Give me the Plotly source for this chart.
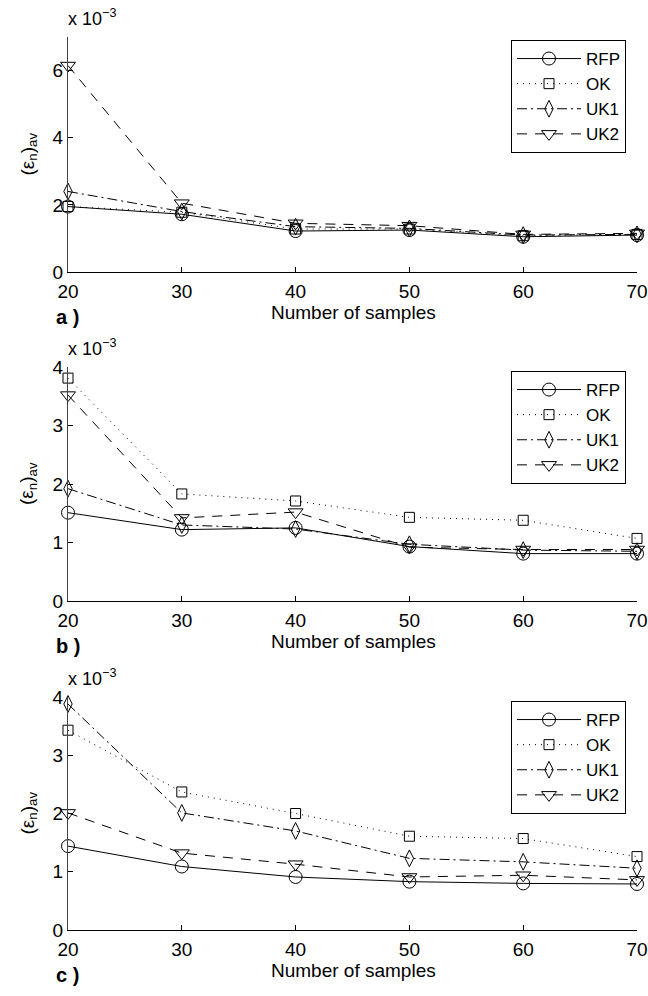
import plotly.graph_objects as go

samples = [20, 30, 40, 50, 60, 70]
series_names = ["RFP", "OK", "UK1", "UK2"]

# panel a (values x 1e-3)
a_rfp = [1.95, 1.72, 1.22, 1.25, 1.05, 1.10]
a_ok = [1.95, 1.78, 1.28, 1.28, 1.08, 1.12]
a_uk1 = [2.40, 1.80, 1.35, 1.30, 1.10, 1.12]
a_uk2 = [6.15, 2.05, 1.45, 1.38, 1.12, 1.15]

# panel b
b_rfp = [1.51, 1.22, 1.25, 0.93, 0.81, 0.81]
b_ok = [3.81, 1.83, 1.71, 1.43, 1.38, 1.07]
b_uk1 = [1.92, 1.30, 1.23, 0.97, 0.87, 0.85]
b_uk2 = [3.52, 1.42, 1.52, 0.92, 0.88, 0.88]

# panel c
c_rfp = [1.44, 1.09, 0.91, 0.83, 0.80, 0.79]
c_ok = [3.43, 2.37, 2.00, 1.61, 1.57, 1.26]
c_uk1 = [3.88, 2.01, 1.70, 1.23, 1.17, 1.06]
c_uk2 = [2.01, 1.32, 1.13, 0.91, 0.94, 0.86]

panels = [
    ("a )", [a_rfp, a_ok, a_uk1, a_uk2], 7, [0, 2, 4, 6]),
    ("b )", [b_rfp, b_ok, b_uk1, b_uk2], 4, [0, 1, 2, 3, 4]),
    ("c )", [c_rfp, c_ok, c_uk1, c_uk2], 4, [0, 1, 2, 3, 4]),
]

W, H = 648, 996
FONT = "Liberation Sans, Arial, Helvetica, sans-serif"
FS = 19
LFS = 17

# pixel geometry of each panel (top, bottom)
px_x0, px_x1 = 68, 637
px_panels = [(37, 272), (367, 601), (697, 930)]
legend_tops = [40, 371, 701]

styles = [
    dict(dash="solid", symbol="circle-open", size=13),
    dict(dash="1px,5px", symbol="square-open", size=10),
    dict(dash="10px,4px,2px,4px", symbol="diamond-tall-open", size=12),
    dict(dash="10px,8px", symbol="triangle-down-open", size=13),
]

fig = go.Figure()
annotations = []

for i, (label, data, ymax, ticks) in enumerate(panels):
    n = "" if i == 0 else str(i + 1)
    top, bot = px_panels[i]
    legname = "legend" if i == 0 else f"legend{i + 1}"
    for name, vals, st in zip(series_names, data, styles):
        fig.add_trace(go.Scatter(
            x=samples, y=vals, name=name, mode="lines+markers",
            xaxis="x" + n, yaxis="y" + n, legend=legname,
            line=dict(color="black", width=1, dash=st["dash"]),
            marker=dict(symbol=st["symbol"], size=st["size"], color="black",
                        line=dict(color="black", width=1)),
            cliponaxis=False,
        ))
    fig.update_layout(**{
        "xaxis" + n: dict(
            domain=[px_x0 / W, px_x1 / W], anchor="y" + n, automargin=False,
            range=[20, 70], tickvals=samples, ticks="inside", ticklen=5,
            showline=True, linecolor="black", linewidth=1, showgrid=False,
            zeroline=False, tickfont=dict(size=FS, family=FONT, color="black"),
            tickcolor="black", ticklabelstandoff=2,
        ),
        "yaxis" + n: dict(
            domain=[1 - bot / H, 1 - top / H], anchor="x" + n, automargin=False,
            range=[0, ymax], tickvals=ticks, ticks="inside", ticklen=5,
            showline=True, linecolor="#444", linewidth=1, showgrid=False,
            zeroline=False, tickfont=dict(size=FS, family=FONT, color="black"),
            tickcolor="black",
        ),
        legname: dict(
            x=626 / W, y=1 - legend_tops[i] / H, xanchor="right", yanchor="top",
            bordercolor="black", borderwidth=1, bgcolor="white",
            font=dict(size=LFS, family=FONT, color="black"),
            itemwidth=64, tracegroupgap=0,
        ),
    })
    # x title
    annotations.append(dict(
        text="Number of samples", xref="paper", yref="paper",
        x=(270 + 437) / 2 / W, y=1 - (bot + 40) / H, xanchor="center", yanchor="middle",
        showarrow=False, font=dict(size=FS, family=FONT, color="black"),
    ))
    # y title
    annotations.append(dict(
        text="(ε<sub>n</sub>)<sub>av</sub>", xref="paper", yref="paper",
        x=28 / W, y=1 - ((top + bot) / 2) / H, xanchor="center", yanchor="middle",
        textangle=-90, showarrow=False,
        font=dict(size=FS, family=FONT, color="black"),
    ))
    # exponent label
    annotations.append(dict(
        text="x 10<sup>−3</sup>", xref="paper", yref="paper",
        x=66 / W, y=1 - (top - 6) / H, xanchor="left", yanchor="bottom",
        showarrow=False, font=dict(size=FS - 1, family=FONT, color="black"),
    ))
    # panel label
    annotations.append(dict(
        text="<b>" + label + "</b>", xref="paper", yref="paper",
        x=54 / W, y=1 - (bot + 45) / H, xanchor="left", yanchor="middle",
        showarrow=False, font=dict(size=FS + 1, family=FONT, color="black"),
    ))

fig.update_layout(
    width=W, height=H, margin=dict(l=0, r=0, t=0, b=0),
    paper_bgcolor="white", plot_bgcolor="white",
    annotations=annotations, showlegend=True,
    font=dict(family=FONT, size=FS, color="black"),
)

fig.write_html(
    "out.html",
    config={"displayModeBar": False},
    post_script="document.body.style.margin='0';document.body.style.overflow='hidden';",
)
